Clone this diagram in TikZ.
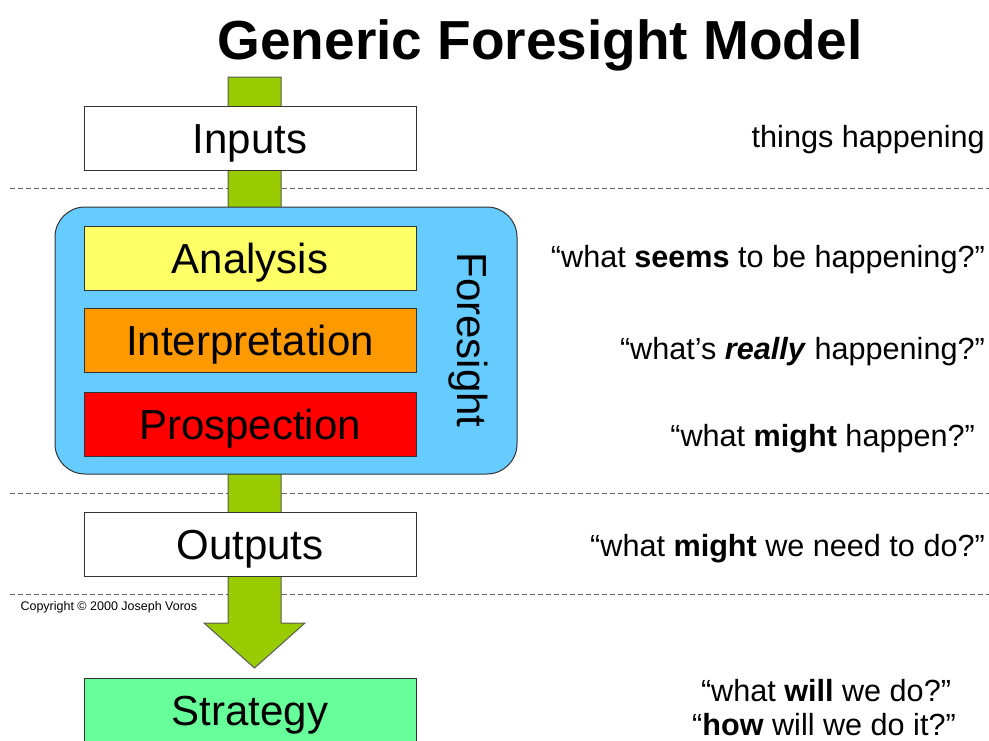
\documentclass[tikz,border=0pt]{standalone}
\usepackage{fontspec}
\setmainfont{Liberation Sans}
\definecolor{arrowgreen}{HTML}{99CC00}
\definecolor{fsblue}{HTML}{66CCFF}
\definecolor{anyellow}{HTML}{FFFF66}
\definecolor{inorange}{HTML}{FF9900}
\definecolor{prred}{HTML}{FF0000}
\definecolor{stgreen}{HTML}{66FF99}
\begin{document}
\begin{tikzpicture}[x=1pt,y=-1pt,
  stagebox/.style={draw=black!80, line width=1pt, minimum width=332pt, minimum height=64pt, inner sep=0pt, text height=30pt, text depth=0pt, font=\fontsize{42}{48}\selectfont},
  sepline/.style={draw=black!60, line width=0.8pt, dash pattern=on 5pt off 3pt},
  question/.style={anchor=east, font=\fontsize{30.6}{36}\selectfont, inner sep=0pt}]
\useasboundingbox (0,0) rectangle (989,740);
\clip (0,0) rectangle (989,740);
\fill[white] (0,0) rectangle (989,740);

\node[font=\bfseries\fontsize{55}{60}\selectfont] (title) at (540,45) {Generic Foresight Model};

% dashed separators
\draw[sepline] (10,188) -- (989,188);
\draw[sepline] (10,493) -- (989,493);
\draw[sepline] (10,594) -- (989,594);

% green flow arrow
\draw[fill=arrowgreen, draw=black!65, line width=1pt]
  (228,77) -- (281,77) -- (281,623) -- (305,623) -- (254.5,668) -- (204,623) -- (228,623) -- cycle;

\node[stagebox, fill=white] (inputs) at (250,138) {Inputs};

\node[draw=black!80, line width=1pt, fill=fsblue, rounded corners=30pt, minimum width=462pt, minimum height=267pt, inner sep=0pt] (foresight) at (286,340.5) {};
\node[rotate=-90, font=\fontsize{42}{48}\selectfont] (fslabel) at (468,340) {Foresight};

\node[stagebox, fill=anyellow] (analysis) at (250,258) {Analysis};
\node[stagebox, fill=inorange] (interp) at (250,340.5) {Interpretation};
\node[stagebox, fill=prred] (prosp) at (250,424.5) {Prospection};

\node[stagebox, fill=white] (outputs) at (250,544) {Outputs};
\node[stagebox, fill=stgreen] (strategy) at (250,710) {Strategy};

\node[anchor=west, font=\fontsize{12.5}{14}\selectfont] (copy) at (17,607) {Copyright © 2000 Joseph Voros};

\node[question] (q1) at (985,140) {things happening};
\node[question] (q2) at (985,260) {“what \textbf{seems} to be happening?”};
\node[question] (q3) at (985,352) {“what’s \textbf{\textit{really}} happening?”};
\node[question] (q4) at (975,439) {“what \textbf{might} happen?”};
\node[question] (q5) at (985,549) {“what \textbf{might} we need to do?”};
\node[anchor=base, font=\fontsize{30.6}{35}\selectfont, inner sep=0pt] (q6) at (826,701) {“what \textbf{will} we do?”};
\node[anchor=base, font=\fontsize{30.6}{35}\selectfont, inner sep=0pt, text depth=0pt] (q7) at (824,735) {“\textbf{how} will we do it?”};
\end{tikzpicture}
\end{document}
